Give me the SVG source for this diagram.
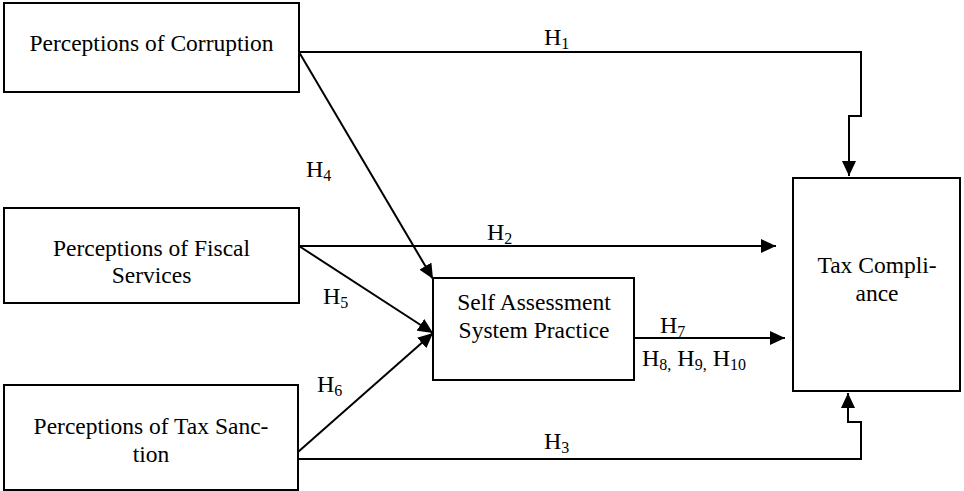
<svg xmlns="http://www.w3.org/2000/svg" width="964" height="491" viewBox="0 0 964 491">
<style>
text{font-family:'Liberation Serif','DejaVu Serif',serif;fill:#000}
.box{fill:#fff;stroke:#000;stroke-width:2}
.t{font-size:23.5px;text-anchor:middle}
.h{font-size:24px}
.s{font-size:16px}
.c{fill:none;stroke:#000;stroke-width:2}
</style>
<defs>
<marker id="arr" markerUnits="userSpaceOnUse" markerWidth="16" markerHeight="14" refX="15" refY="7" orient="auto">
<path d="M0,0 L15,7 L0,14 z" fill="#000"/>
</marker>
</defs>
<g id="connectors">
<path class="c" d="M299,52 H861 V116 H849 V176" marker-end="url(#arr)"/>
<path class="c" d="M299,52 L433,279" marker-end="url(#arr)"/>
<path class="c" d="M299,246 H776" marker-end="url(#arr)"/>
<path class="c" d="M299,246 L433,333" marker-end="url(#arr)"/>
<path class="c" d="M298,452 L433,333" marker-end="url(#arr)"/>
<path class="c" d="M298,459 H861 V422 H848 V393" marker-end="url(#arr)"/>
<path class="c" d="M634,338 H785" marker-end="url(#arr)"/>
</g>
<g id="labels">
<text class="h" x="544" y="45" font-family="Liberation Serif, DejaVu Serif, serif">H<tspan class="s" dy="4">1</tspan></text>
<text class="h" x="306" y="177" font-family="Liberation Serif, DejaVu Serif, serif">H<tspan class="s" dy="4">4</tspan></text>
<text class="h" x="487" y="240" font-family="Liberation Serif, DejaVu Serif, serif">H<tspan class="s" dy="4">2</tspan></text>
<text class="h" x="323" y="304" font-family="Liberation Serif, DejaVu Serif, serif">H<tspan class="s" dy="4">5</tspan></text>
<text class="h" x="317" y="392" font-family="Liberation Serif, DejaVu Serif, serif">H<tspan class="s" dy="4">6</tspan></text>
<text class="h" x="544" y="449" font-family="Liberation Serif, DejaVu Serif, serif">H<tspan class="s" dy="4">3</tspan></text>
<text class="h" x="660" y="333" font-family="Liberation Serif, DejaVu Serif, serif">H<tspan class="s" dy="4">7</tspan></text>
<text class="h" x="642" y="366" font-family="Liberation Serif, DejaVu Serif, serif">H<tspan class="s" dy="4">8,</tspan><tspan dy="-4"> H</tspan><tspan class="s" dy="4">9,</tspan><tspan dy="-4">  H</tspan><tspan class="s" dy="4">10</tspan></text>
</g>
<g id="corruption">
<rect class="box" x="4" y="3" width="295" height="89"/>
<text class="t" x="151.5" y="51">Perceptions of Corruption</text>
</g>
<g id="fiscal">
<rect class="box" x="4" y="208" width="295" height="95"/>
<text class="t" x="151.5" y="256">Perceptions of Fiscal</text>
<text class="t" x="151.5" y="283">Services</text>
</g>
<g id="sanction">
<rect class="box" x="4" y="385" width="294" height="105"/>
<text class="t" x="151" y="434">Perceptions of Tax Sanc-</text>
<text class="t" x="151" y="462">tion</text>
</g>
<g id="sas">
<rect class="box" x="433" y="278" width="201" height="102"/>
<text class="t" x="534" y="310">Self Assessment</text>
<text class="t" x="534" y="338">System Practice</text>
</g>
<g id="compliance">
<rect class="box" x="793" y="178" width="167" height="213"/>
<text class="t" x="877" y="273">Tax Compli-</text>
<text class="t" x="877" y="301">ance</text>
</g>
</svg>
